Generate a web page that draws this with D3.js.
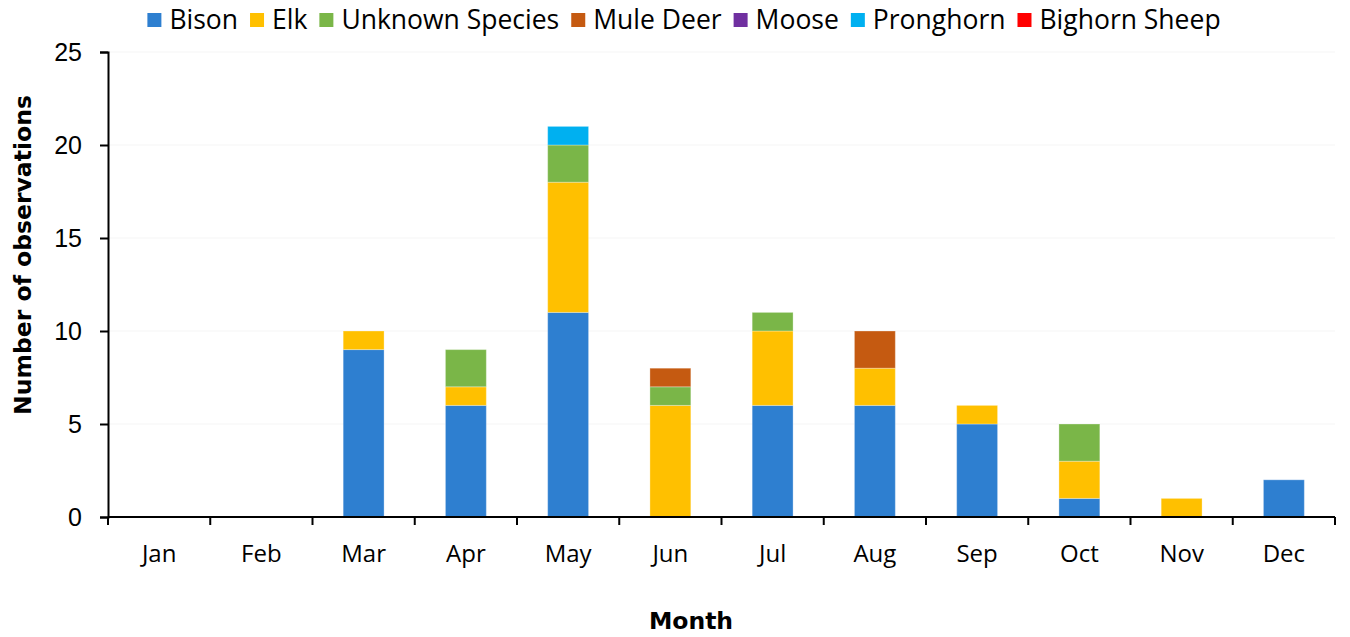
<!DOCTYPE html>
<html>
<head>
<meta charset="utf-8">
<script src="https://cdn.jsdelivr.net/npm/d3@7"></script>
<style>
  body { margin: 0; background: #fff; }
</style>
</head>
<body>
<div id="chart"></div>
<script>
// data
var months = ["Jan", "Feb", "Mar", "Apr", "May", "Jun", "Jul", "Aug", "Sep", "Oct", "Nov", "Dec"];
var species = ["Bison", "Elk", "Unknown Species", "Mule Deer", "Moose", "Pronghorn", "Bighorn Sheep"];
var bison     = [0, 0, 9, 6, 11, 0, 6, 6, 5, 1, 0, 2];
var elk       = [0, 0, 1, 1, 7, 6, 4, 2, 1, 2, 1, 0];
var unknown   = [0, 0, 0, 2, 2, 1, 1, 0, 0, 2, 0, 0];
var muleDeer  = [0, 0, 0, 0, 0, 1, 0, 2, 0, 0, 0, 0];
var moose     = [0, 0, 0, 0, 0, 0, 0, 0, 0, 0, 0, 0];
var pronghorn = [0, 0, 0, 0, 1, 0, 0, 0, 0, 0, 0, 0];
var bighorn   = [0, 0, 0, 0, 0, 0, 0, 0, 0, 0, 0, 0];
var yTicks = [0, 5, 10, 15, 20, 25];

var colors = ["#2E7FD0", "#FFC000", "#7AB648", "#C55A11", "#7030A0", "#00B0F0", "#FF0000"];

var svgWidth = 1350;
var svgHeight = 637;
var margin = { top: 52, right: 15, bottom: 120, left: 108 };
var width = svgWidth - margin.left - margin.right;
var height = svgHeight - margin.top - margin.bottom;

var svg = d3.select("#chart")
    .append("svg")
    .attr("width", svgWidth)
    .attr("height", svgHeight);

var g = svg.append("g")
    .attr("transform", `translate(${margin.left}, ${margin.top})`);

var seriesValues = [bison, elk, unknown, muleDeer, moose, pronghorn, bighorn];
var table = months.map(function(m, i) {
    var row = { month: m };
    species.forEach(function(s, j) { row[s] = seriesValues[j][i]; });
    return row;
});
var stacked = d3.stack().keys(species)(table);

var x = d3.scaleBand()
    .domain(months)
    .range([0, width])
    .paddingInner(0.6)
    .paddingOuter(0.3);

var y = d3.scaleLinear()
    .domain([0, 25])
    .range([height, 0]);

// gridlines
g.append("g")
    .selectAll("line")
    .data(yTicks.slice(1))
    .enter()
    .append("line")
        .attr("x1", 0)
        .attr("x2", width)
        .attr("y1", d => y(d))
        .attr("y2", d => y(d))
        .attr("stroke", "#f5f5f5")
        .attr("stroke-width", 1);

// bars
g.append("g")
    .selectAll("g")
    .data(stacked)
    .enter()
    .append("g")
        .attr("fill", (d, i) => colors[i])
    .selectAll("rect")
    .data(d => d.filter(p => p[1] - p[0] > 0))
    .enter()
    .append("rect")
        .attr("x", d => x(d.data.month))
        .attr("y", d => y(d[1]))
        .attr("width", x.bandwidth())
        .attr("height", d => y(d[0]) - y(d[1]))
        .attr("stroke", "rgba(255,255,255,0.3)")
        .attr("stroke-width", 1);

// y axis
var yAxis = g.append("g")
    .call(d3.axisLeft(y).tickValues(yTicks).tickSize(8).tickPadding(18));
yAxis.select(".domain").attr("stroke", "#000").attr("stroke-width", 2);
yAxis.selectAll(".tick line").attr("stroke", "#000").attr("stroke-width", 2);
yAxis.selectAll("text")
    .attr("font-family", "Liberation Sans, Arial, sans-serif")
    .attr("font-size", 25)
    .attr("fill", "#000");

// x axis: ticks between categories
var xAxis = g.append("g")
    .attr("transform", `translate(0, ${height})`);
xAxis.append("line")
    .attr("x1", 0).attr("x2", width)
    .attr("stroke", "#000").attr("stroke-width", 2);
var bounds = d3.range(months.length + 1).map(i => i * width / months.length);
xAxis.selectAll(".tk")
    .data(bounds)
    .enter()
    .append("line")
        .attr("class", "tk")
        .attr("x1", d => d).attr("x2", d => d)
        .attr("y1", 0).attr("y2", 8)
        .attr("stroke", "#000").attr("stroke-width", 2);
xAxis.selectAll("text")
    .data(months)
    .enter()
    .append("text")
        .attr("x", d => x(d) + x.bandwidth() / 2)
        .attr("y", 45)
        .attr("text-anchor", "middle")
        .attr("font-family", "Open Sans, sans-serif")
        .attr("font-size", 24)
        .attr("fill", "#000")
        .text(d => d);

// axis titles
svg.append("text")
    .attr("transform", "translate(31, 255) rotate(-90)")
    .attr("text-anchor", "middle")
    .attr("font-family", "DejaVu Sans, sans-serif")
    .attr("font-weight", "bold")
    .attr("font-size", 23.5)
    .text("Number of observations");

svg.append("text")
    .attr("x", 691)
    .attr("y", 629)
    .attr("text-anchor", "middle")
    .attr("font-family", "DejaVu Sans, sans-serif")
    .attr("font-weight", "bold")
    .attr("font-size", 23.5)
    .text("Month");

// legend
var legend = svg.append("g");
var cursor = 0;
species.forEach(function(s, i) {
    var item = legend.append("g").attr("transform", `translate(${cursor}, 0)`);
    item.append("rect")
        .attr("x", 0).attr("y", 13)
        .attr("width", 14).attr("height", 14)
        .attr("fill", colors[i]);
    var t = item.append("text")
        .attr("x", 22).attr("y", 29)
        .attr("font-family", "Open Sans, sans-serif")
        .attr("font-size", 26.5)
        .text(s);
    cursor += 22 + t.node().getComputedTextLength() + 12;
});
var legendWidth = cursor - 12;
legend.attr("transform", `translate(${(143 + 1225) / 2 - legendWidth / 2}, 0)`);
</script>
</body>
</html>
